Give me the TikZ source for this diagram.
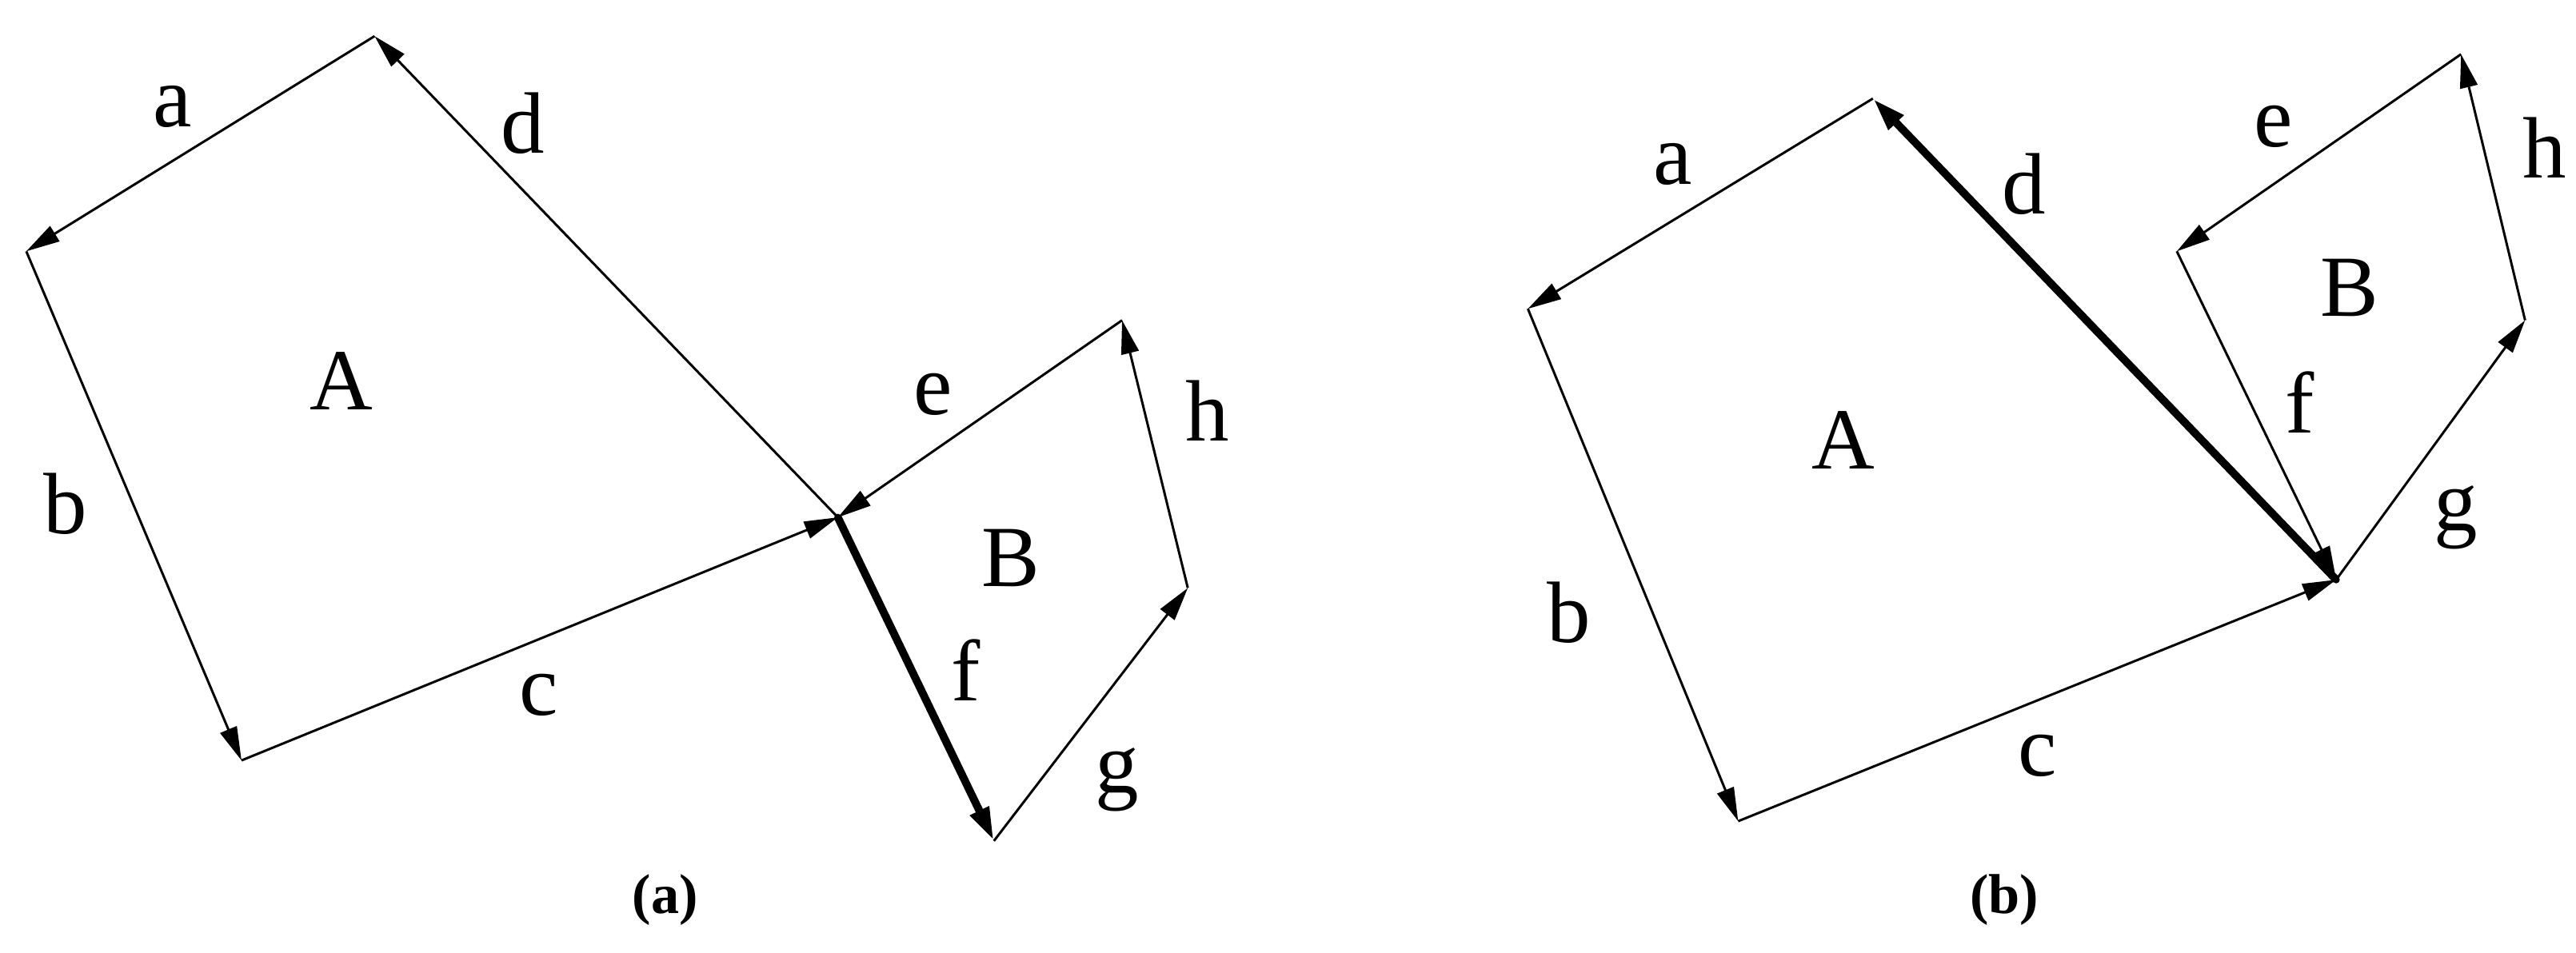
\documentclass[tikz,border=0pt]{standalone}
\usepackage{fontspec}
\setmainfont{Liberation Serif}
\usetikzlibrary{arrows.meta}
\begin{document}
\begin{tikzpicture}[x=0.02054cm,y=-0.02054cm,
  vec/.style={line width=0.85pt,-{Triangle[length=0.42cm,width=0.22cm]}},
  thickvec/.style={line width=2.8pt,-{Triangle[length=0.42cm,width=0.24cm]}},
  lab/.style={font=\fontsize{31}{31}\selectfont,inner sep=0pt},
  captext/.style={font=\bfseries\fontsize{20}{20}\selectfont,inner sep=0pt}]
\useasboundingbox (0,0) rectangle (1568,580);
% (a)
\coordinate (T1) at (228,22); \coordinate (L1) at (16,153);
\coordinate (B1) at (147,463); \coordinate (X1) at (510,315);
\coordinate (E1) at (683,195); \coordinate (H1) at (723,358);
\coordinate (F1) at (605,512);
\draw[vec] (T1) -- (L1);
\draw[vec] (L1) -- (B1);
\draw[vec] (B1) -- (X1);
\draw[vec] (X1) -- (T1);
\draw[vec] (E1) -- (X1);
\draw[vec] (H1) -- (E1);
\draw[thickvec] (X1) -- (F1);
\draw[vec] (F1) -- (H1);
\fill (X1) circle (2.2);
\node[lab] (la) at (105,65) {a};
\node[lab] (ld) at (318,75) {d};
\node[lab] (lA) at (208,232) {A};
\node[lab] (lb) at (40,307) {b};
\node[lab] (lc) at (328,423) {c};
\node[lab] (le) at (568,240) {e};
\node[lab] (lh) at (735,250) {h};
\node[lab] (lB) at (615,340) {B};
\node[lab] (lf) at (588,408) {f};
\node[lab] (lg) at (680,475) {g};
\node[captext] (ca) at (405,548) {(a)};
% (b)
\coordinate (T2) at (1140,60); \coordinate (L2) at (930,188);
\coordinate (B2) at (1058,500); \coordinate (X2) at (1422,353);
\coordinate (P2) at (1325,153); \coordinate (Q2) at (1498,33);
\coordinate (H2) at (1537,195);
\draw[vec] (T2) -- (L2);
\draw[vec] (L2) -- (B2);
\draw[vec] (B2) -- (X2);
\draw[thickvec] (X2) -- (T2);
\draw[vec] (P2) -- (X2);
\draw[vec] (Q2) -- (P2);
\draw[vec] (H2) -- (Q2);
\draw[vec] (X2) -- (H2);
\fill (X2) circle (2.2);
\node[lab] (la2) at (1018,100) {a};
\node[lab] (ld2) at (1232,112) {d};
\node[lab] (lA2) at (1122,268) {A};
\node[lab] (lb2) at (955,373) {b};
\node[lab] (lc2) at (1240,460) {c};
\node[lab] (le2) at (1384,77) {e};
\node[lab] (lh2) at (1549,90) {h};
\node[lab] (lB2) at (1430,175) {B};
\node[lab] (lf2) at (1400,245) {f};
\node[lab] (lg2) at (1495,315) {g};
\node[captext] (cb) at (1220,548) {(b)};
\end{tikzpicture}
\end{document}
